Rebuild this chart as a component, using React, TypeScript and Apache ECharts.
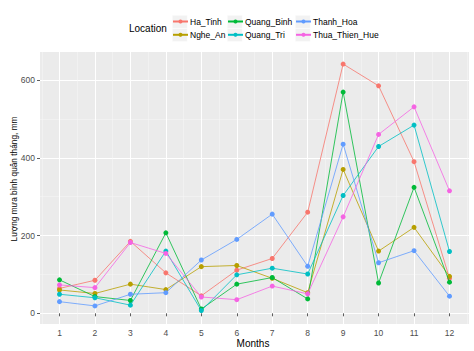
import React, { useEffect, useRef } from "react";
import * as echarts from "echarts";

const months = [1, 2, 3, 4, 5, 6, 7, 8, 9, 10, 11, 12];
const seriesNames = ["Ha_Tinh", "Nghe_An", "Quang_Binh", "Quang_Tri", "Thanh_Hoa", "Thua_Thien_Hue"];
const colors = ["#F8766D", "#B79F00", "#00BA38", "#00BFC4", "#619CFF", "#F564E3"];

const haTinh = [64, 85, 185, 104, 45, 111, 141, 260, 641, 585, 390, 90];
const ngheAn = [60, 51, 75, 61, 120, 123, 90, 53, 370, 160, 221, 95];
const quangBinh = [86, 43, 33, 207, 11, 75, 92, 37, 569, 78, 324, 80];
const quangTri = [49, 40, 21, 160, 7, 99, 116, 101, 303, 429, 484, 159];
const thanhHoa = [30, 19, 49, 53, 137, 190, 255, 121, 435, 130, 161, 44];
const thuaThienHue = [73, 66, 182, 154, 42, 35, 70, 50, 248, 460, 531, 315];

const yTicks = [0, 200, 400, 600];
const yMinor = [100, 300, 500];
const xMinor = [0.5, 1.5, 2.5, 3.5, 4.5, 5.5, 6.5, 7.5, 8.5, 9.5, 10.5, 11.5, 12.5];

const allData = [haTinh, ngheAn, quangBinh, quangTri, thanhHoa, thuaThienHue];

const FONT = "Liberation Sans, Arial, sans-serif";

export default function App() {
  const ref = useRef<HTMLDivElement>(null);
  useEffect(() => {
    if (!ref.current) return;
    const chart = echarts.init(ref.current, null, { renderer: "svg" });
    const grid = { left: 40, right: 5, top: 52, bottom: 27 };
    const xMin = 0.45, xMax = 12.55, yMin = -27.5, yMax = 672;

    const legendCols = [
      { left: 172, items: [0, 1] },
      { left: 227, items: [2, 3] },
      { left: 295, items: [4, 5] },
    ];
    const keyRects: any[] = [];
    legendCols.forEach((c) => {
      [15, 28.3].forEach((t) => {
        keyRects.push({
          type: "rect",
          left: c.left,
          top: t,
          shape: { width: 15, height: 13 },
          style: { fill: "#F2F2F2", stroke: "#FFFFFF", lineWidth: 0.5 },
          z: -1,
        });
      });
    });

    chart.setOption({
      animation: false,
      backgroundColor: "#FFFFFF",
      textStyle: { fontFamily: FONT },
      graphic: [
        ...keyRects,
        {
          type: "text",
          left: 129,
          top: 23,
          style: { text: "Location", fontSize: 10, fill: "#000000", fontFamily: FONT },
        },
        {
          type: "text",
          x: 14,
          y: 179,
          rotation: Math.PI / 2,
          style: {
            text: "Lượng mưa bình quân tháng, mm",
            fontSize: 8.3,
            fill: "#000000",
            fontFamily: FONT,
            align: "center",
            verticalAlign: "middle",
          },
        },
        {
          type: "text",
          x: 253,
          y: 343.5,
          style: {
            text: "Months",
            fontSize: 10,
            lineHeight: 11,
            fill: "#000000",
            fontFamily: FONT,
            align: "center",
            verticalAlign: "middle",
          },
        },
      ],
      legend: legendCols.map((c) => ({
        orient: "vertical",
        left: c.left,
        top: 16.5,
        padding: 0,
        itemGap: 3.3,
        itemWidth: 15,
        itemHeight: 5,
        data: c.items.map((i) => seriesNames[i]),
        textStyle: { fontSize: 8.5, lineHeight: 10, color: "#000000", fontFamily: FONT, padding: [0, 0, 0, -3] },
        selectedMode: false,
      })),
      grid: [{ ...grid, outerBoundsMode: "none", containLabel: false, backgroundColor: "#EBEBEB", show: true, borderWidth: 0 }],
      xAxis: [
        {
          type: "value",
          min: xMin,
          max: xMax,
          axisLine: { show: false },
          axisTick: { show: true, length: 3, customValues: months, lineStyle: { color: "#333333", width: 0.8 } },
          axisLabel: { customValues: months, fontSize: 8.5, lineHeight: 9, color: "#4D4D4D", margin: 4, fontFamily: FONT },
          splitLine: { show: true, lineStyle: { color: "#FFFFFF", width: 1 } },
          z: 1,
        },
        {
          type: "value",
          min: xMin,
          max: xMax,
          position: "bottom",
          axisLine: { show: false },
          axisTick: { show: false, customValues: xMinor },
          axisLabel: { show: false, customValues: xMinor },
          splitLine: { show: true, lineStyle: { color: "#F7F7F7", width: 0.5 } },
        },
      ],
      yAxis: [
        {
          type: "value",
          min: yMin,
          max: yMax,
          axisLine: { show: false },
          axisTick: { show: true, length: 3, customValues: yTicks, lineStyle: { color: "#333333", width: 0.8 } },
          axisLabel: { customValues: yTicks, fontSize: 8.5, color: "#4D4D4D", margin: 5, fontFamily: FONT },
          splitLine: { show: true, lineStyle: { color: "#FFFFFF", width: 1 } },
        },
        {
          type: "value",
          min: yMin,
          max: yMax,
          position: "left",
          axisLine: { show: false },
          axisTick: { show: false, customValues: yMinor },
          axisLabel: { show: false, customValues: yMinor },
          splitLine: { show: true, lineStyle: { color: "#F7F7F7", width: 0.5 } },
        },
      ],
      series: seriesNames.map((name, i) => ({
        name,
        type: "line",
        xAxisIndex: 0,
        yAxisIndex: 0,
        data: months.map((m, j) => [m, allData[i][j]]),
        symbol: "circle",
        symbolSize: 5,
        showSymbol: true,
        lineStyle: { width: 0.8, color: colors[i] },
        itemStyle: { color: colors[i] },
        emphasis: { disabled: true },
        z: 3 + i,
      })),
    });
    return () => chart.dispose();
  }, []);
  return <div ref={ref} style={{ width: 474, height: 351, position: "absolute", left: 0, top: 0 }} />;
}
